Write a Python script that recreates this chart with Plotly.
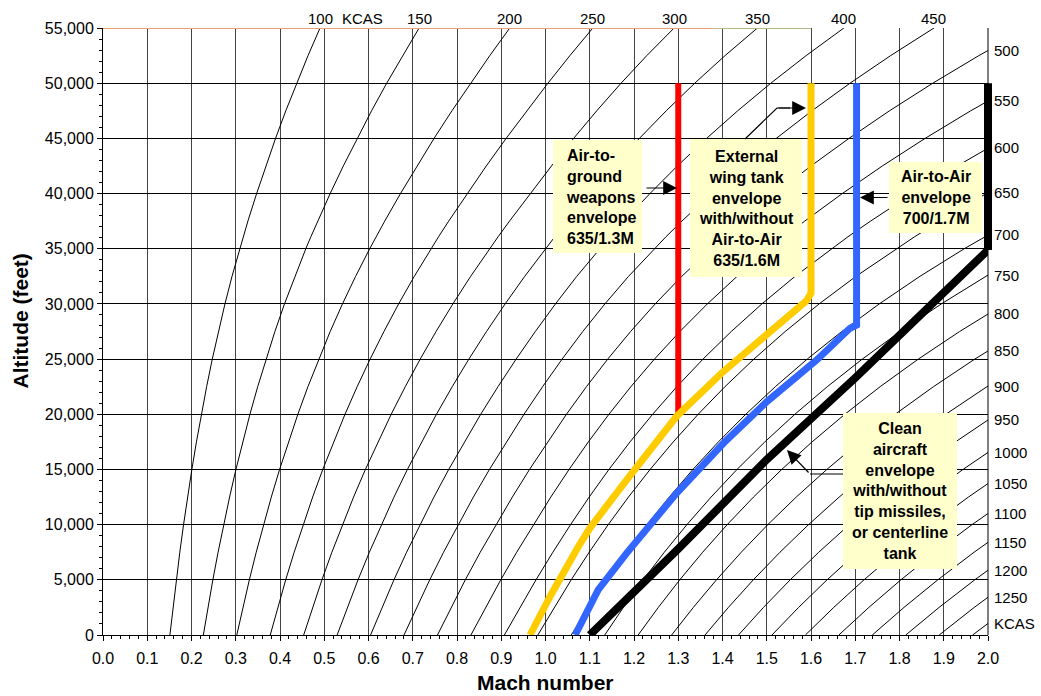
import math
import plotly.graph_objects as go

# ---------------- data ----------------
KCAS_LINES = [100, 150, 200, 250, 300, 350, 400, 450, 500, 550, 600, 650, 700, 750,
              800, 850, 900, 950, 1000, 1050, 1100, 1150, 1200, 1250, 1300]
ALTITUDES = [0, 2500, 5000, 7500, 10000, 12500, 15000, 17500, 20000, 22500, 25000,
             27500, 30000, 32500, 35000, 36089, 37500, 40000, 42500, 45000, 47500,
             50000, 52500, 55000]
TOP_LABELS = [100, 150, 200, 250, 300, 350, 400, 450]
RIGHT_LABELS = [500, 550, 600, 650, 700, 750, 800, 850, 900, 950, 1000, 1050,
                1100, 1150, 1200, 1250, 1300]
RIGHT_TEXT = ["500", "550", "600", "650", "700", "750", "800", "850", "900", "950",
              "1000", "1050", "1100", "1150", "1200", "1250", "KCAS"]

# envelopes (Mach, altitude ft)
AG_MACH = [1.30, 1.30]
AG_ALT = [20000, 50000]
WT_MACH = [0.965, 1.010, 1.074, 1.100, 1.183, 1.296, 1.400, 1.500, 1.590, 1.600, 1.600]
WT_ALT = [0, 3470, 8000, 9670, 14040, 19800, 23800, 27300, 30300, 30960, 50000]
AA_MACH = [1.067, 1.119, 1.183, 1.296, 1.402, 1.500, 1.613, 1.688, 1.703, 1.703]
AA_ALT = [0, 4080, 7400, 12840, 17370, 21140, 24920, 27790, 28090, 50000]
CL_MACH = [1.100, 1.300, 1.500, 1.700, 2.000, 2.000]
CL_ALT = [0, 7800, 15900, 23300, 34880, 50000]

TOP_ORANGE_MACH = [0.0, 1.38]
TOP_OLIVE_MACH = [1.38, 1.60]
TOP_ALT = 55000

X_MAX, Y_MAX = 2.0, 55000

FONT = "Liberation Sans, Arial, sans-serif"


# ---------------- standard atmosphere conversion (CAS -> Mach) ----------------
def delta(h):
    if h <= 36089.24:
        return (1 - 6.87559e-6 * h) ** 5.25588
    return 0.223361 * math.exp(-4.80634e-5 * (h - 36089.24))


def qc_over_p0(v):
    r = v / 661.4786
    if r <= 1:
        return (1 + 0.2 * r * r) ** 3.5 - 1
    return 166.9216 * r ** 7 / (7 * r * r - 1) ** 2.5 - 1


def mach_from_qcp(q):
    m = math.sqrt(5 * ((q + 1) ** (2 / 7) - 1))
    if m <= 1:
        return m
    for _ in range(60):
        m = 0.88128485 * math.sqrt((q + 1) * (1 - 1 / (7 * m * m)) ** 2.5)
    return m


def mach(v, h):
    return mach_from_qcp(qc_over_p0(v) / delta(h))


def alt_at_mach(v, m_target):
    lo, hi = 0.0, 90000.0
    for _ in range(80):
        mid = 0.5 * (lo + hi)
        if mach(v, mid) < m_target:
            lo = mid
        else:
            hi = mid
    return 0.5 * (lo + hi)


fig = go.Figure()

# KCAS lines
for v in KCAS_LINES:
    fig.add_trace(go.Scatter(
        x=[mach(v, h) for h in ALTITUDES], y=ALTITUDES, mode="lines",
        line=dict(color="black", width=1), hoverinfo="skip", showlegend=False))

# top border lines at 55,000 ft
fig.add_trace(go.Scatter(x=TOP_ORANGE_MACH, y=[TOP_ALT, TOP_ALT], mode="lines",
                         line=dict(color="#E8A070", width=2), hoverinfo="skip"))
fig.add_trace(go.Scatter(x=TOP_OLIVE_MACH, y=[TOP_ALT, TOP_ALT], mode="lines",
                         line=dict(color="#B8B890", width=2), hoverinfo="skip"))

# envelopes
fig.add_trace(go.Scatter(x=AG_MACH, y=AG_ALT, mode="lines",
                         line=dict(color="#FF0000", width=6), hoverinfo="skip"))
fig.add_trace(go.Scatter(x=WT_MACH, y=WT_ALT, mode="lines",
                         line=dict(color="#FFCC00", width=7), hoverinfo="skip"))
fig.add_trace(go.Scatter(x=AA_MACH, y=AA_ALT, mode="lines",
                         line=dict(color="#3366FF", width=7), hoverinfo="skip"))
fig.add_trace(go.Scatter(x=CL_MACH, y=CL_ALT, mode="lines",
                         line=dict(color="#000000", width=8), hoverinfo="skip"))

shapes = []
# restore the part of the clean envelope's vertical leg that lies at the plot edge
shapes.append(dict(type="line", xref="paper", yref="paper",
                   x0=CL_MACH[-1] / X_MAX, x1=CL_MACH[-1] / X_MAX,
                   y0=CL_ALT[-2] / Y_MAX, y1=CL_ALT[-1] / Y_MAX,
                   line=dict(color="black", width=8), layer="above"))
# right frame
shapes.append(dict(type="line", xref="paper", yref="paper", x0=1, x1=1, y0=0, y1=1,
                   line=dict(color="black", width=1), layer="above"))


def px2m(px):
    return (px - 103) / 442.5


def px2a(py):
    return (635 - py) / 607 * 55000


# label boxes
BOXES = [
    (553, 642, 140, 253),
    (690, 802, 139, 277),
    (889, 982, 162, 233),
    (843, 957, 413, 569),
]
for (xa, xb, ya, yb) in BOXES:
    shapes.append(dict(type="rect", xref="x", yref="y",
                       x0=px2m(xa), x1=px2m(xb), y0=px2a(yb), y1=px2a(ya),
                       fillcolor="#FFFFCC", line=dict(width=0), layer="above"))

# connector lines
shapes.append(dict(type="path", xref="x", yref="y",
                   path=f"M{px2m(745)},{px2a(139)} L{px2m(777)},{px2a(108)} L{px2m(790)},{px2a(108)}",
                   line=dict(color="black", width=1.2), layer="above"))
shapes.append(dict(type="line", xref="x", yref="y",
                   x0=px2m(843), x1=px2m(810), y0=px2a(474), y1=px2a(474),
                   line=dict(color="black", width=1.2), layer="above"))

ann = []
bold = dict(family=FONT, size=16, color="black")
ann.append(dict(x=px2m(564), y=px2a(196.5), xref="x", yref="y", xanchor="left",
                yanchor="middle", align="left", showarrow=False, font=bold,
                text="<b>Air-to-<br>ground<br>weapons<br>envelope<br>635/1.3M</b>"))
ann.append(dict(x=px2m(746), y=px2a(208), xref="x", yref="y", xanchor="center",
                yanchor="middle", align="center", showarrow=False, font=bold,
                text="<b>External<br>wing tank<br>envelope<br>with/without<br>Air-to-Air<br>635/1.6M</b>"))
ann.append(dict(x=px2m(935.5), y=px2a(197.5), xref="x", yref="y", xanchor="center",
                yanchor="middle", align="center", showarrow=False, font=bold,
                text="<b>Air-to-Air<br>envelope<br>700/1.7M</b>"))
ann.append(dict(x=px2m(900), y=px2a(491), xref="x", yref="y", xanchor="center",
                yanchor="middle", align="center", showarrow=False, font=bold,
                text="<b>Clean<br>aircraft<br>envelope<br>with/without<br>tip missiles,<br>or centerline<br>tank</b>"))

# arrows
ARROWS = [
    ((645, 188), (677, 188)),
    ((777, 108), (806, 108)),
    ((889, 197.5), (860, 197.5)),
    ((810, 474), (787, 450)),
]
for (t, h) in ARROWS:
    ann.append(dict(x=px2m(h[0]), y=px2a(h[1]), ax=px2m(t[0]), ay=px2a(t[1]),
                    xref="x", yref="y", axref="x", ayref="y", text="",
                    showarrow=True, arrowhead=2, arrowsize=2.3, arrowwidth=1.2,
                    arrowcolor="black", standoff=0))

lab = dict(family=FONT, size=15, color="black")
for v in TOP_LABELS:
    ann.append(dict(x=mach(v, Y_MAX), y=Y_MAX, xref="x", yref="y", text=str(v),
                    showarrow=False, xanchor="center", yanchor="middle", yshift=10,
                    font=lab))
ann.append(dict(x=mach(TOP_LABELS[0], Y_MAX), y=Y_MAX, xref="x", yref="y", text="KCAS",
                showarrow=False, xanchor="left", yanchor="middle", yshift=10, xshift=20,
                font=lab))
for v, t in zip(RIGHT_LABELS, RIGHT_TEXT):
    ann.append(dict(x=X_MAX, y=alt_at_mach(v, X_MAX), xref="x", yref="y", text=t,
                    showarrow=False, xanchor="left", yanchor="middle", xshift=4,
                    font=lab))

# axis titles
title_font = dict(family=FONT, size=21, color="black")
ann.append(dict(x=0.5, y=0, xref="paper", yref="paper", text="<b>Mach number</b>",
                showarrow=False, xanchor="center", yanchor="middle", yshift=-47,
                font=title_font))
ann.append(dict(x=0, y=0.5, xref="paper", yref="paper", text="<b>Altitude (feet)</b>",
                showarrow=False, xanchor="center", yanchor="middle", xshift=-83,
                yshift=10, textangle=-90, font=title_font))

fig.update_layout(
    width=1041, height=696,
    margin=dict(l=103, r=53, t=28, b=61, autoexpand=False),
    paper_bgcolor="white", plot_bgcolor="white",
    showlegend=False,
    shapes=shapes, annotations=ann,
    font=dict(family=FONT, size=16, color="black"),
)
fig.update_xaxes(range=[0, X_MAX], dtick=0.1, tick0=0, tickformat=".1f",
                 showgrid=True, gridcolor="#444444", gridwidth=1,
                 showline=True, linecolor="black", linewidth=1,
                 ticks="outside", ticklen=5, tickcolor="black", ticklabelstandoff=4,
                 minor=dict(dtick=0.02, ticks="outside", ticklen=3, tickcolor="black",
                            showgrid=False),
                 zeroline=False, tickfont=dict(family=FONT, size=16, color="black"))
fig.update_yaxes(range=[0, Y_MAX], dtick=5000, tick0=0, tickformat=",",
                 showgrid=True, gridcolor="#000000", gridwidth=1,
                 showline=True, linecolor="black", linewidth=1,
                 ticks="outside", ticklen=5, tickcolor="black",
                 minor=dict(dtick=1000, ticks="outside", ticklen=3, tickcolor="black",
                            showgrid=False),
                 zeroline=False, tickfont=dict(family=FONT, size=16, color="black"))

fig.write_html("out.html", config={"displayModeBar": False},
               post_script="document.body.style.margin='0px';document.body.style.overflow='hidden';")
